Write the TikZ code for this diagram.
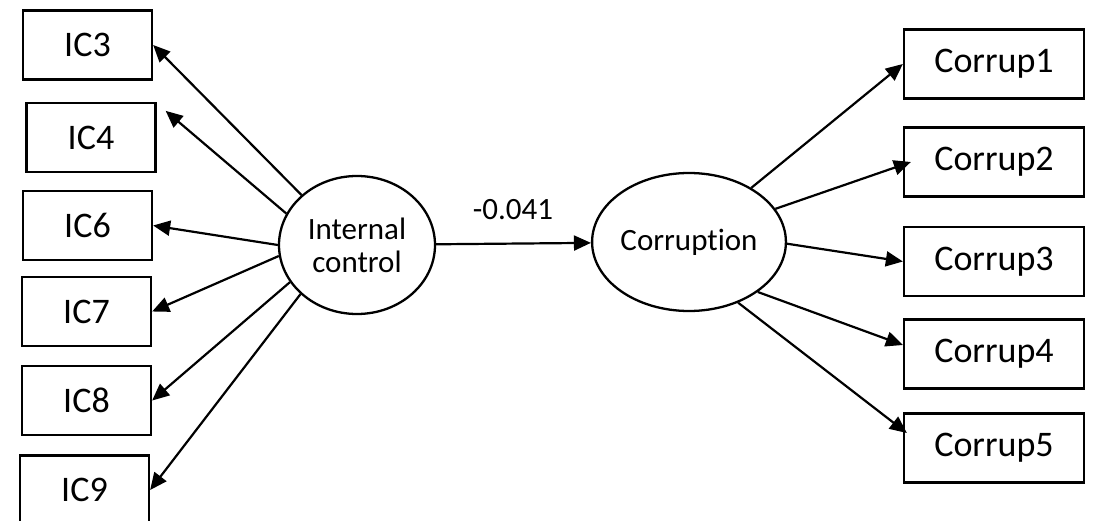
\documentclass[tikz,border=0pt]{standalone}
\usepackage{fontspec}
\setmainfont{Carlito}[Ligatures=NoCommon]
\usetikzlibrary{arrows.meta,shapes.geometric,calc}
\begin{document}
\begin{tikzpicture}[x=1pt,y=-1pt,
  obs/.style={draw,line width=2.3pt,minimum width=129pt,minimum height=69pt,inner sep=0pt,font=\fontsize{36}{43}\selectfont},
  lat/.style={draw,ellipse,line width=2.3pt,minimum width=156pt,minimum height=138pt,inner sep=0pt,font=\fontsize{31}{37}\selectfont,align=center},
  arr/.style={line width=2.2pt,-{Triangle[length=17pt,width=15pt]}}]
\useasboundingbox (0,0) rectangle (1094,521);
\fill[white] (0,0) rectangle (1094,521);
% left indicators
\node[obs] (ic3) at (87.5,45) {IC3};
\node[obs] (ic4) at (91,137.5) {IC4};
\node[obs] (ic6) at (87.5,225.5) {IC6};
\node[obs] (ic7) at (86.5,311.5) {IC7};
\node[obs] (ic8) at (86.5,400.5) {IC8};
\node[obs] (ic9) at (84.5,490) {IC9};
% right indicators
\node[obs,minimum width=180pt] (c1) at (994,64) {Corrup1};
\node[obs,minimum width=180pt] (c2) at (994,162) {Corrup2};
\node[obs,minimum width=180pt] (c3) at (994,261.5) {Corrup3};
\node[obs,minimum width=180pt] (c4) at (994,354) {Corrup4};
\node[obs,minimum width=180pt] (c5) at (994,448) {Corrup5};
% latent variables
\node[lat] (ic) at (357,245) {Internal\\[-4pt]control};
\node[lat] (cor) at (689,242) {Corruption};
% structural path
\draw[arr] (ic) -- (cor);
\node[font=\fontsize{31}{37}\selectfont] (lbl) at (513,210) {-0.041};
% left loadings
\draw[arr] (ic.138.7) -- (ic3.east);
\draw[arr] (ic.156.9) -- ($(ic4.north east)+(9pt,-9pt)$);
\draw[arr] (ic.180) -- (ic6.east);
\draw[arr] (ic.188) -- (ic7.east);
\draw[arr] (ic.209.8) -- (ic8.east);
\draw[arr] (ic.221.8) -- (ic9.east);
% right loadings
\draw[arr] (cor.41.2) -- (c1.west);
\draw[arr] (cor.21.5) -- ($(c2.west)+(8pt,0pt)$);
\draw[arr] (cor.-1) -- (c3.west);
\draw[arr] (cor.-36.6) -- ($(c4.west)+(0pt,9pt)$);
\draw[arr] (cor.-51) -- ($(c5.west)+(4pt,15pt)$);
\end{tikzpicture}
\end{document}
